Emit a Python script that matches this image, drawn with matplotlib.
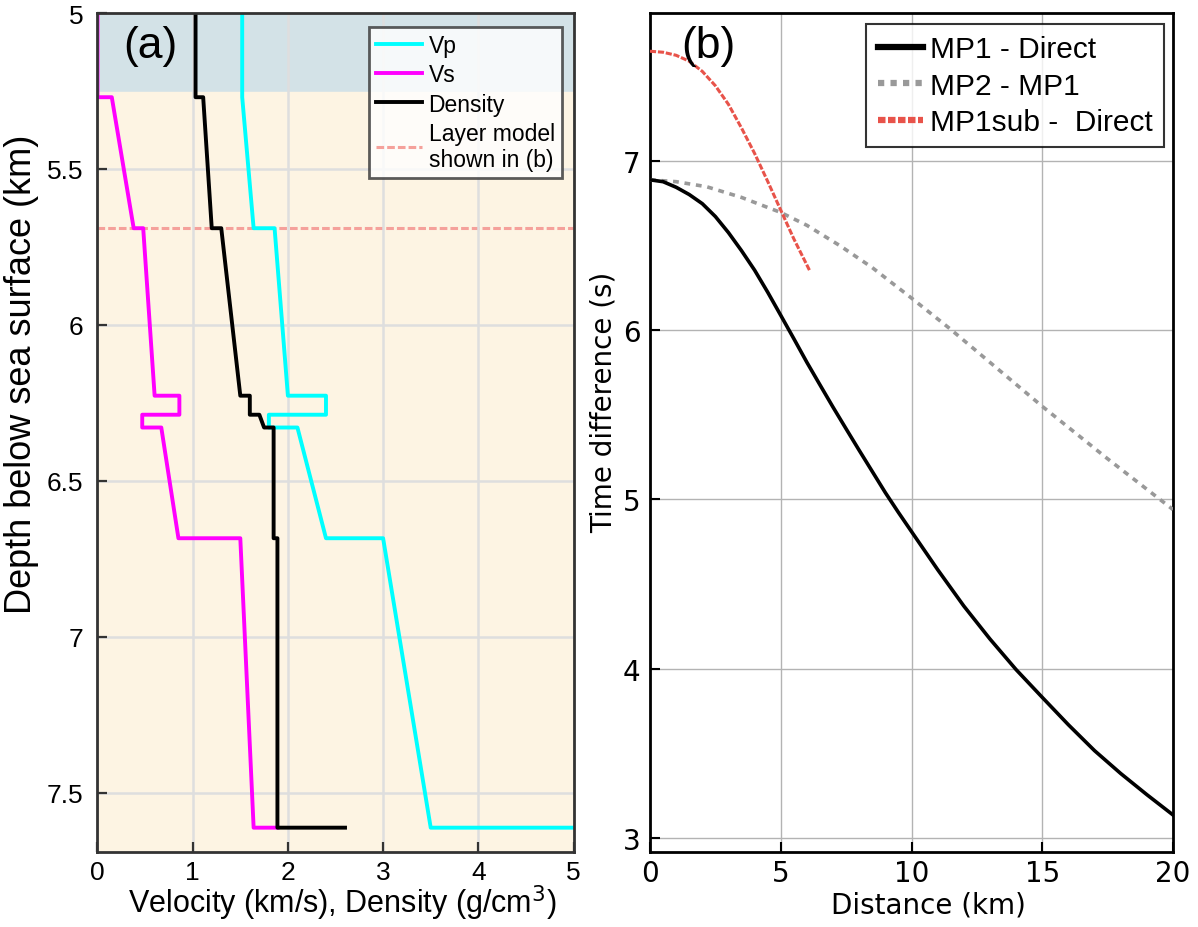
import matplotlib
matplotlib.use("Agg")
import matplotlib.pyplot as plt
from matplotlib.lines import Line2D

# ---------------- (a) velocity / density profile ----------------
# vertices of the step profiles: depth (km) and value
vs_depth = [5.0, 5.27, 5.27, 5.69, 5.69, 6.227, 6.227, 6.288, 6.288, 6.329, 6.329, 6.684, 6.684, 7.612, 7.612]
vs_value = [0.0, 0.0, 0.15, 0.38, 0.48, 0.60, 0.86, 0.86, 0.47, 0.47, 0.67, 0.85, 1.50, 1.64, 1.89]

rho_depth = [5.0, 5.27, 5.27, 5.69, 5.69, 6.227, 6.227, 6.288, 6.288, 6.329, 6.329, 6.684, 6.684, 7.612, 7.612]
rho_value = [1.03, 1.03, 1.11, 1.20, 1.30, 1.50, 1.60, 1.60, 1.70, 1.75, 1.85, 1.85, 1.89, 1.89, 2.60]

vp_depth = [5.0, 5.27, 5.69, 5.69, 6.227, 6.227, 6.288, 6.288, 6.329, 6.329, 6.684, 6.684, 7.612, 7.612]
vp_value = [1.52, 1.52, 1.64, 1.86, 2.00, 2.40, 2.40, 1.80, 1.80, 2.10, 2.40, 3.00, 3.50, 5.50]

water_bottom = 5.252
layer_model_depth = 5.69

# ---------------- (b) time differences ----------------
mp1_x = [0.0, 0.5, 1.0, 1.5, 2.0, 2.5, 3.0, 3.5, 4.0, 4.5, 5.0, 5.5, 6.0, 6.5, 7.0, 7.5,
         8.0, 8.5, 9.0, 9.5, 10.0, 11.0, 12.0, 13.0, 14.0, 15.0, 16.0, 17.0, 18.0, 19.0, 20.0]
mp1_t = [6.889, 6.878, 6.845, 6.802, 6.748, 6.672, 6.577, 6.47, 6.355, 6.225, 6.088, 5.95, 5.81,
         5.677, 5.545, 5.417, 5.29, 5.165, 5.04, 4.923, 4.81, 4.585, 4.37, 4.175, 3.994, 3.83,
         3.668, 3.515, 3.38, 3.255, 3.135]

mp2_x = [0.0, 1.0, 2.17, 3.5, 5.0, 6.0, 7.26, 8.5, 10.0, 11.46, 13.0, 15.0, 17.5, 20.0]
mp2_t = [6.889, 6.878, 6.848, 6.785, 6.696, 6.62, 6.50, 6.37, 6.19, 6.01, 5.81, 5.55, 5.24, 4.94]

sub_x = [0.0, 0.5, 1.0, 1.5, 2.0, 2.5, 3.0, 3.5, 4.0, 4.5, 5.0, 5.5, 6.11]
sub_t = [7.649, 7.643, 7.625, 7.59, 7.53, 7.445, 7.335, 7.195, 7.045, 6.88, 6.71, 6.54, 6.351]

W, H = 1198, 928
fig = plt.figure(figsize=(W / 100, H / 100), dpi=100)

ax1 = fig.add_axes([97.5 / W, (H - 853) / H, 476 / W, 839 / H])
ax2 = fig.add_axes([650 / W, (H - 853) / H, 523 / W, 839 / H])

arial = "Liberation Sans"
lucida = "DejaVu Sans"

# ---- panel (a)
ax1.set_xlim(0, 5)
ax1.set_ylim(7.69, 5.0)
ax1.axhspan(5.0, water_bottom, color="#d3e2e7", zorder=0)
ax1.axhspan(water_bottom, 7.69, color="#fdf4e3", zorder=0)
ax1.set_xticks([0, 1, 2, 3, 4, 5])
ax1.set_yticks([5, 5.5, 6, 6.5, 7, 7.5])
ax1.set_yticklabels(["5", "5.5", "6", "6.5", "7", "7.5"])
ax1.grid(True, color="#dedede", lw=1.8, zorder=1)
ax1.set_axisbelow(False)

ax1.axhline(layer_model_depth, color="#f5a19b", lw=2.2, ls=(0, (2.5, 1)), zorder=2)
ax1.plot(vp_value, vp_depth, color="#00ffff", lw=2.8, zorder=3)
ax1.plot(vs_value, vs_depth, color="#ff00ff", lw=2.8, zorder=3)
ax1.plot(rho_value, rho_depth, color="black", lw=2.8, zorder=4)

for s in ax1.spines.values():
    s.set_color("#333333")
    s.set_linewidth(2.0)
    s.set_zorder(5)
ax1.tick_params(axis="y", direction="in", length=7, width=1.6, color="#333333",
                labelsize=19, pad=10)
ax1.tick_params(axis="x", direction="in", length=7, width=1.6, color="#333333",
                labelsize=19, pad=6)
for lab in ax1.get_xticklabels() + ax1.get_yticklabels():
    lab.set_fontfamily(arial)
ax1.set_xlabel("Velocity (km/s), Density (g/cm$^3$)", fontsize=22, family=arial)
ax1.xaxis.set_label_coords(0.514, -0.036)
ax1.xaxis.label.set_va("top")
ax1.set_ylabel("Depth below sea surface (km)", fontsize=26, family=arial)
ax1.yaxis.set_label_coords(-0.122, 0.571)
ax1.text(0.055, 0.986, "(a)", transform=ax1.transAxes, fontsize=32, family=arial,
         va="top", ha="left", zorder=6)

handles_a = [
    Line2D([], [], color="#00ffff", lw=2.8),
    Line2D([], [], color="#ff00ff", lw=2.8),
    Line2D([], [], color="black", lw=2.8),
    Line2D([], [], color="#f5a19b", lw=2.2, ls=(0, (2.5, 1))),
]
leg1 = ax1.legend(handles_a, ["Vp", "Vs", "Density", "Layer model\nshown in (b)"],
                  loc="upper right", bbox_to_anchor=(0.975, 0.983),
                  prop={"family": arial, "size": 16.5}, frameon=True, fancybox=False,
                  handlelength=2.0, handletextpad=0.3, labelspacing=0.27,
                  borderpad=0.3, borderaxespad=0.0)
leg1.get_frame().set_edgecolor("#333333")
leg1.get_frame().set_linewidth(2.0)
leg1.set_zorder(7)

# ---- panel (b)
ax2.set_xlim(0, 20)
ax2.set_ylim(2.916, 7.875)
ax2.set_xticks([0, 5, 10, 15, 20])
ax2.set_yticks([3, 4, 5, 6, 7])
ax2.grid(True, color="#b3b3b3", lw=1.0)
ax2.set_axisbelow(True)

ax2.plot(mp2_x, mp2_t, color="#999999", lw=2.6, ls=(0, (1.6, 1.6)), zorder=3)
ax2.plot(mp1_x, mp1_t, color="black", lw=2.6, zorder=4)
ax2.plot(sub_x, sub_t, color="#e8534a", lw=2.2, ls=(0, (2.0, 0.6)), zorder=5)

for s in ax2.spines.values():
    s.set_color("black")
    s.set_linewidth(2.0)
ax2.tick_params(axis="x", direction="in", length=7, width=1.5, labelsize=20, pad=5)
ax2.tick_params(axis="y", direction="in", length=7, width=1.5, labelsize=20, pad=7)
for lab in ax2.get_xticklabels() + ax2.get_yticklabels():
    lab.set_fontfamily(lucida)
ax2.set_xlabel("Distance (km)", fontsize=20, family=lucida)
ax2.xaxis.set_label_coords(0.533, -0.046)
ax2.xaxis.label.set_va("top")
ax2.set_ylabel("Time difference (s)", fontsize=20, family=lucida)
ax2.yaxis.set_label_coords(-0.062, 0.5375)
ax2.text(0.06, 0.986, "(b)", transform=ax2.transAxes, fontsize=32, family=arial,
         va="top", ha="left", zorder=6)

handles_b = [
    Line2D([], [], color="black", lw=4.5),
    Line2D([], [], color="#999999", lw=4.5, ls=(0, (1.0, 1.0))),
    Line2D([], [], color="#e8534a", lw=4.5, ls=(0, (1.2, 0.4))),
]
leg2 = ax2.legend(handles_b, ["MP1 - Direct", "MP2 - MP1", "MP1sub -  Direct"],
                  loc="upper right", bbox_to_anchor=(0.983, 0.987),
                  prop={"family": arial, "size": 21.5}, frameon=True, fancybox=False,
                  handlelength=1.5, handletextpad=0.25, labelspacing=0.28,
                  borderpad=0.38, borderaxespad=0.0)
leg2.get_frame().set_edgecolor("black")
leg2.get_frame().set_linewidth(1.5)

fig.savefig("out.png", dpi=100, facecolor="white")
